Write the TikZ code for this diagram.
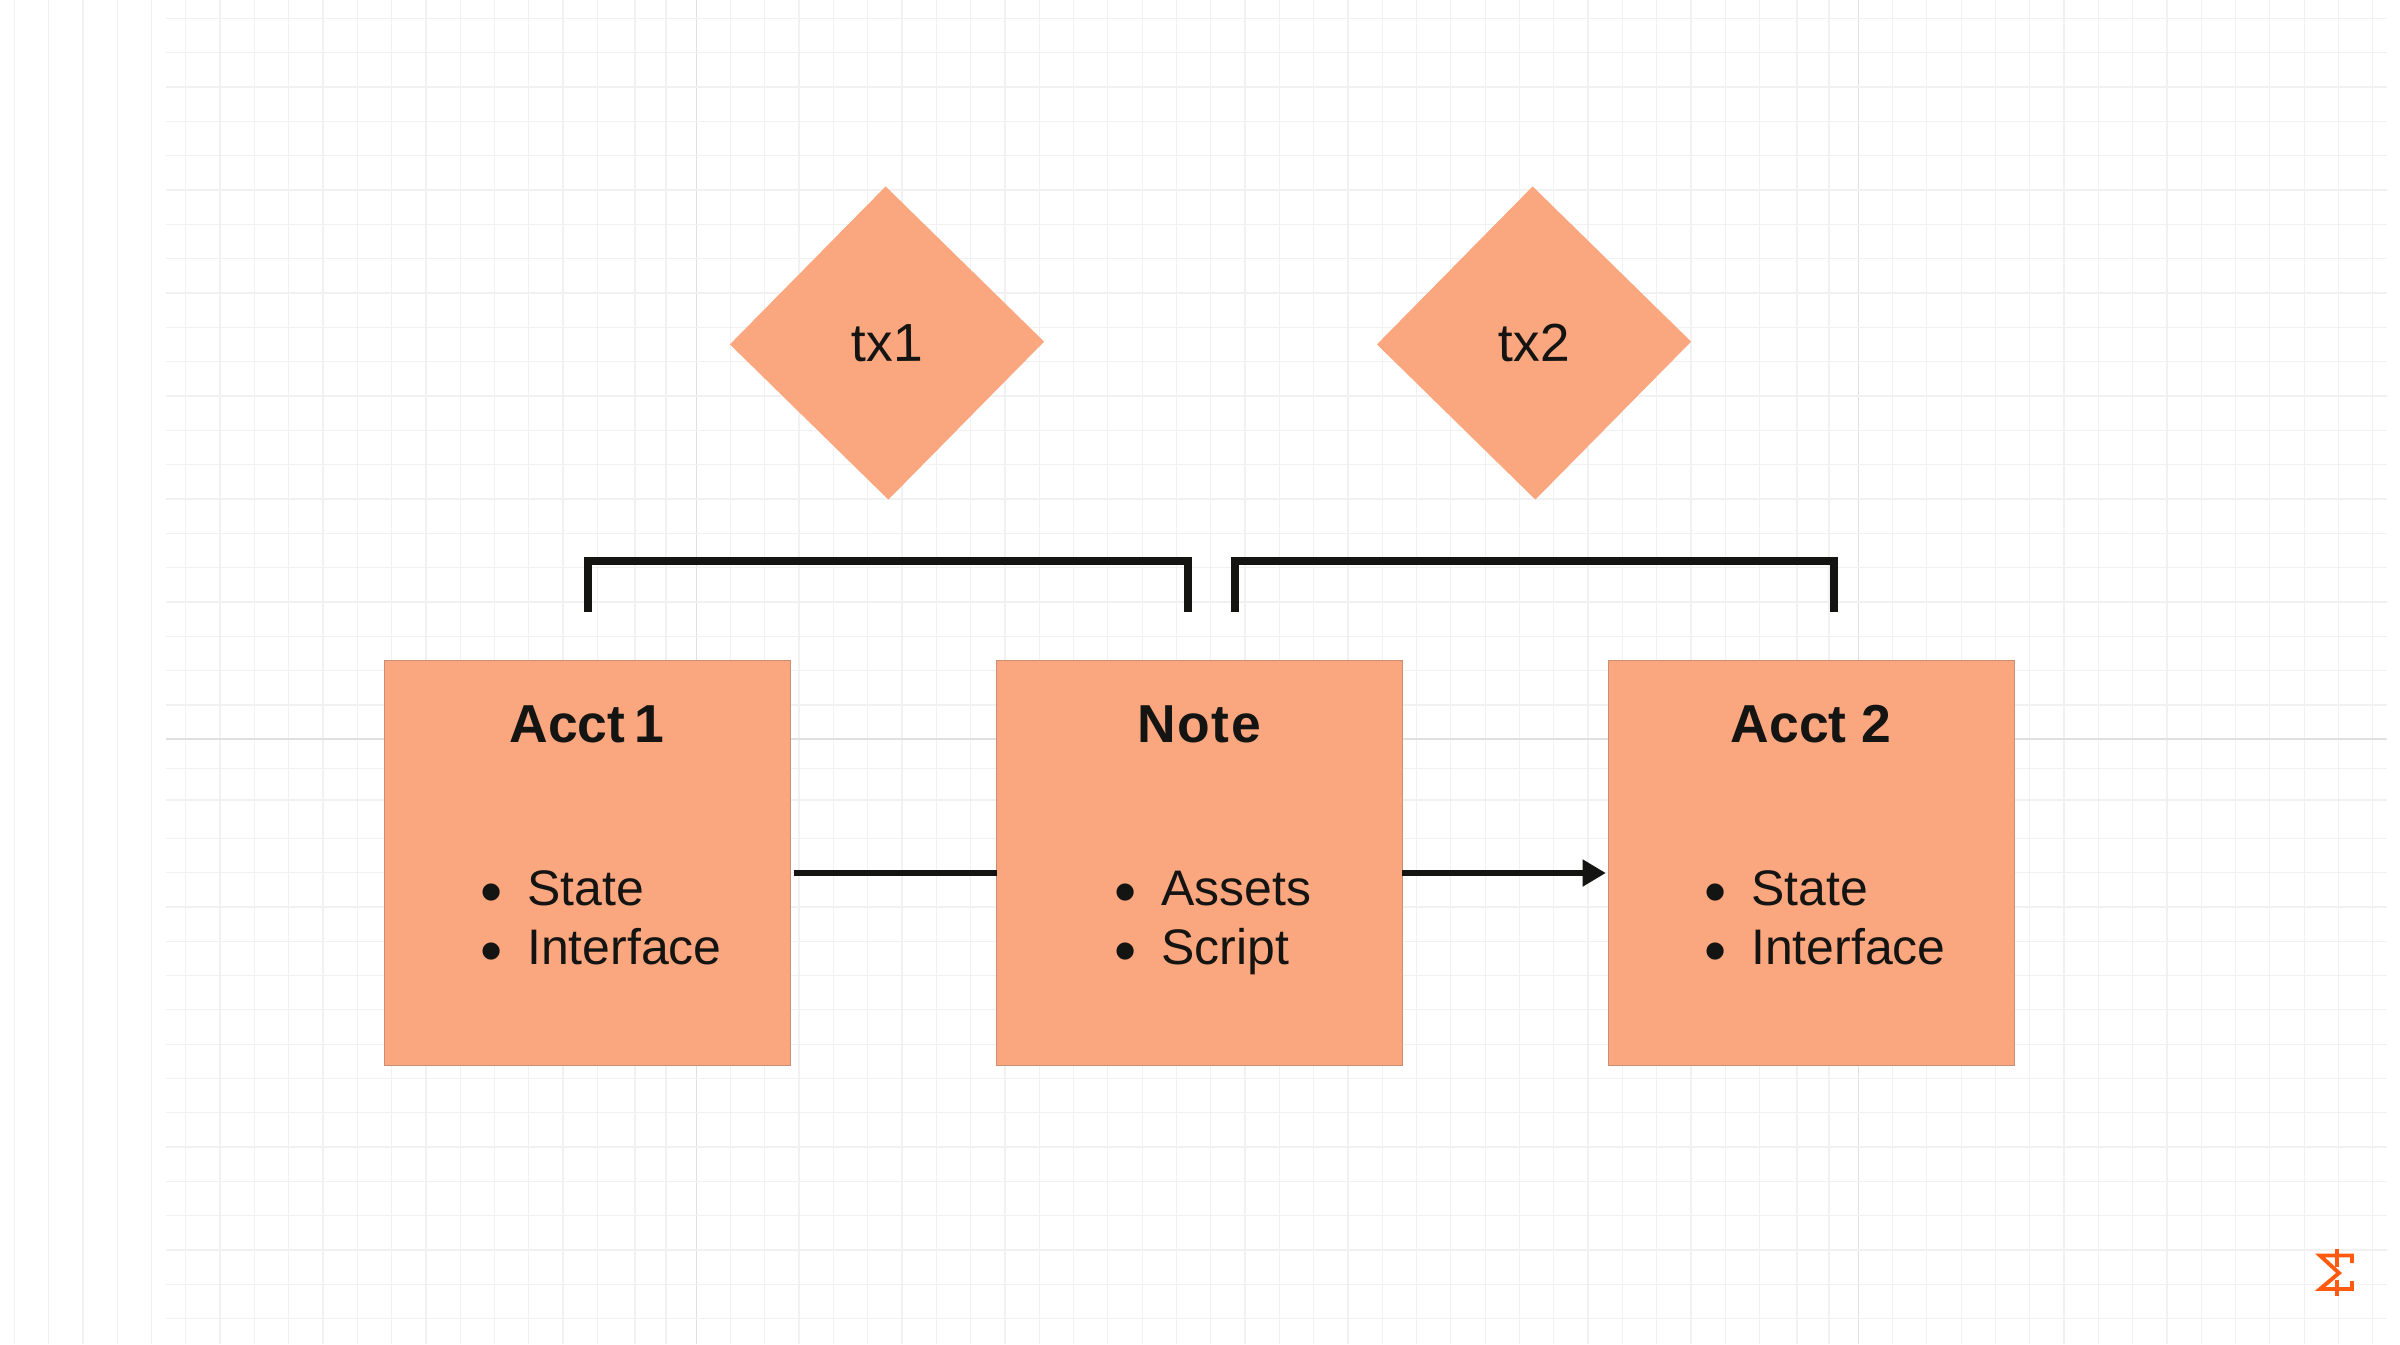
\documentclass[tikz,border=0pt]{standalone}
\usepackage{fontspec}
\setmainfont{Liberation Sans}
\usetikzlibrary{shapes.geometric,arrows.meta}
\definecolor{boxfill}{HTML}{FAA67E}
\definecolor{boxedge}{HTML}{CC8E72}
\definecolor{inkdark}{HTML}{141413}
\definecolor{gridminor}{HTML}{F1F1F1}
\definecolor{gridmajor}{HTML}{E0E0E0}
\definecolor{logoorange}{HTML}{FF5A10}
\newcommand{\itemdot}{\makebox[0.52cm][l]{\hspace{0.055cm}\raisebox{-0.08cm}{\fontsize{18pt}{18pt}\selectfont •}}}

\begin{document}
\begin{tikzpicture}[x=0.01cm, y=-0.01cm,
  gridline/.style={gridminor, line width=0.35pt},
  gridbold/.style={gridmajor, line width=0.4pt},
  acctbox/.style={rectangle, draw=boxedge, line width=0.3pt, fill=boxfill, minimum size=4.05cm, inner sep=0pt, outer sep=0pt},
  txdiamond/.style={diamond, fill=boxfill, minimum width=3.14cm, minimum height=3.13cm, inner sep=0pt, outer sep=0pt, rotate=0.5, text=inkdark, font=\fontsize{15.2pt}{18pt}\selectfont},
  titletext/.style={anchor=base, inner sep=0pt, text=inkdark, font=\fontsize{15.2pt}{18pt}\selectfont\bfseries},
  itemtext/.style={anchor=base west, inner sep=0pt, text=inkdark, font=\fontsize{14.2pt}{17pt}\selectfont},
  bracketline/.style={draw=inkdark, line width=2.3pt, miter limit=10},
  flowline/.style={draw=inkdark, line width=1.5pt}]
\useasboundingbox (0,0) rectangle (2400,1344);
\fill[white] (0,0) rectangle (2400,1344);
% grid
\foreach \k in {0,...,17} \draw[gridline] ({14.3+34.3*\k},0) -- ({14.3+34.3*\k},1344);
\foreach \k in {0,...,30} \draw[gridline] ({730.5+34.3*\k},0) -- ({730.5+34.3*\k},1344);
\foreach \k in {0,...,14} \draw[gridline] ({1892.5+34.3*\k},0) -- ({1892.5+34.3*\k},1344);
\foreach \xv in {635,666,1797,1829} \draw[gridline] (\xv,0) -- (\xv,1344);
\foreach \xv in {696.4,1858.5} \draw[gridbold] (\xv,0) -- (\xv,1344);
\foreach \k in {0,...,20} \draw[gridline] (166,{18.3+34.33*\k}) -- (2387,{18.3+34.33*\k});
\foreach \k in {0,...,14} \draw[gridline] (166,{838.3+34.3*\k}) -- (2387,{838.3+34.3*\k});
\foreach \yv in {768.3,800} \draw[gridline] (166,\yv) -- (2387,\yv);
\draw[gridbold] (166,739) -- (2387,739);
% boxes
\node[acctbox] (acct1) at (587.5,863) {};
\node[acctbox] (note) at (1199.5,863) {};
\node[acctbox] (acct2) at (1811.5,863) {};
\node[txdiamond] (tx1) at (887,343) {tx1};
\node[txdiamond] (tx2) at (1534,343) {tx2};
% box texts
\node[titletext] (acct1title) at (587,742.3) {Acct\hspace{0.17em}1};
\node[titletext] (notetitle) at (1199,742.3) {\addfontfeature{LetterSpace=3}Note};
\node[titletext] (acct2title) at (1811,742.3) {Acct 2};
\node[itemtext] (acct1state) at (474.5,905.7) {\itemdot State};
\node[itemtext] (acct1iface) at (474.5,964.3) {\itemdot Interface};
\node[itemtext] (noteassets) at (1108.5,905.7) {\itemdot Assets};
\node[itemtext] (notescript) at (1108.5,964.3) {\itemdot Script};
\node[itemtext] (acct2state) at (1698.5,905.7) {\itemdot State};
\node[itemtext] (acct2iface) at (1698.5,964.3) {\itemdot Interface};
% brackets
\coordinate (b1a) at (588,612);
\coordinate (b1b) at (1188,612);
\coordinate (b2a) at (1235,612);
\coordinate (b2b) at (1834,612);
\draw[bracketline] (b1a) -- (588,561) -- (1188,561) -- (b1b);
\draw[bracketline] (b2a) -- (1235,561) -- (1834,561) -- (b2b);
% connectors
\draw[flowline, shorten <=1pt] (acct1.east |- 0,873) -- (note.west |- 0,873);
\draw[flowline, -{Triangle[length=6.6pt, width=7.4pt]}, shorten >=0.9pt] (note.east |- 0,873) -- (acct2.west |- 0,873);
% logo
\draw[logoorange, line width=1.1pt] (2352,1263) -- (2352,1255.5) -- (2320,1255.5) -- (2339,1273) -- (2320,1289) -- (2352,1289) -- (2352,1281);
\draw[logoorange, line width=1.1pt] (2337,1249) -- (2337,1267);
\draw[logoorange, line width=1.1pt] (2337,1280) -- (2337,1296);
\end{tikzpicture}
\end{document}
